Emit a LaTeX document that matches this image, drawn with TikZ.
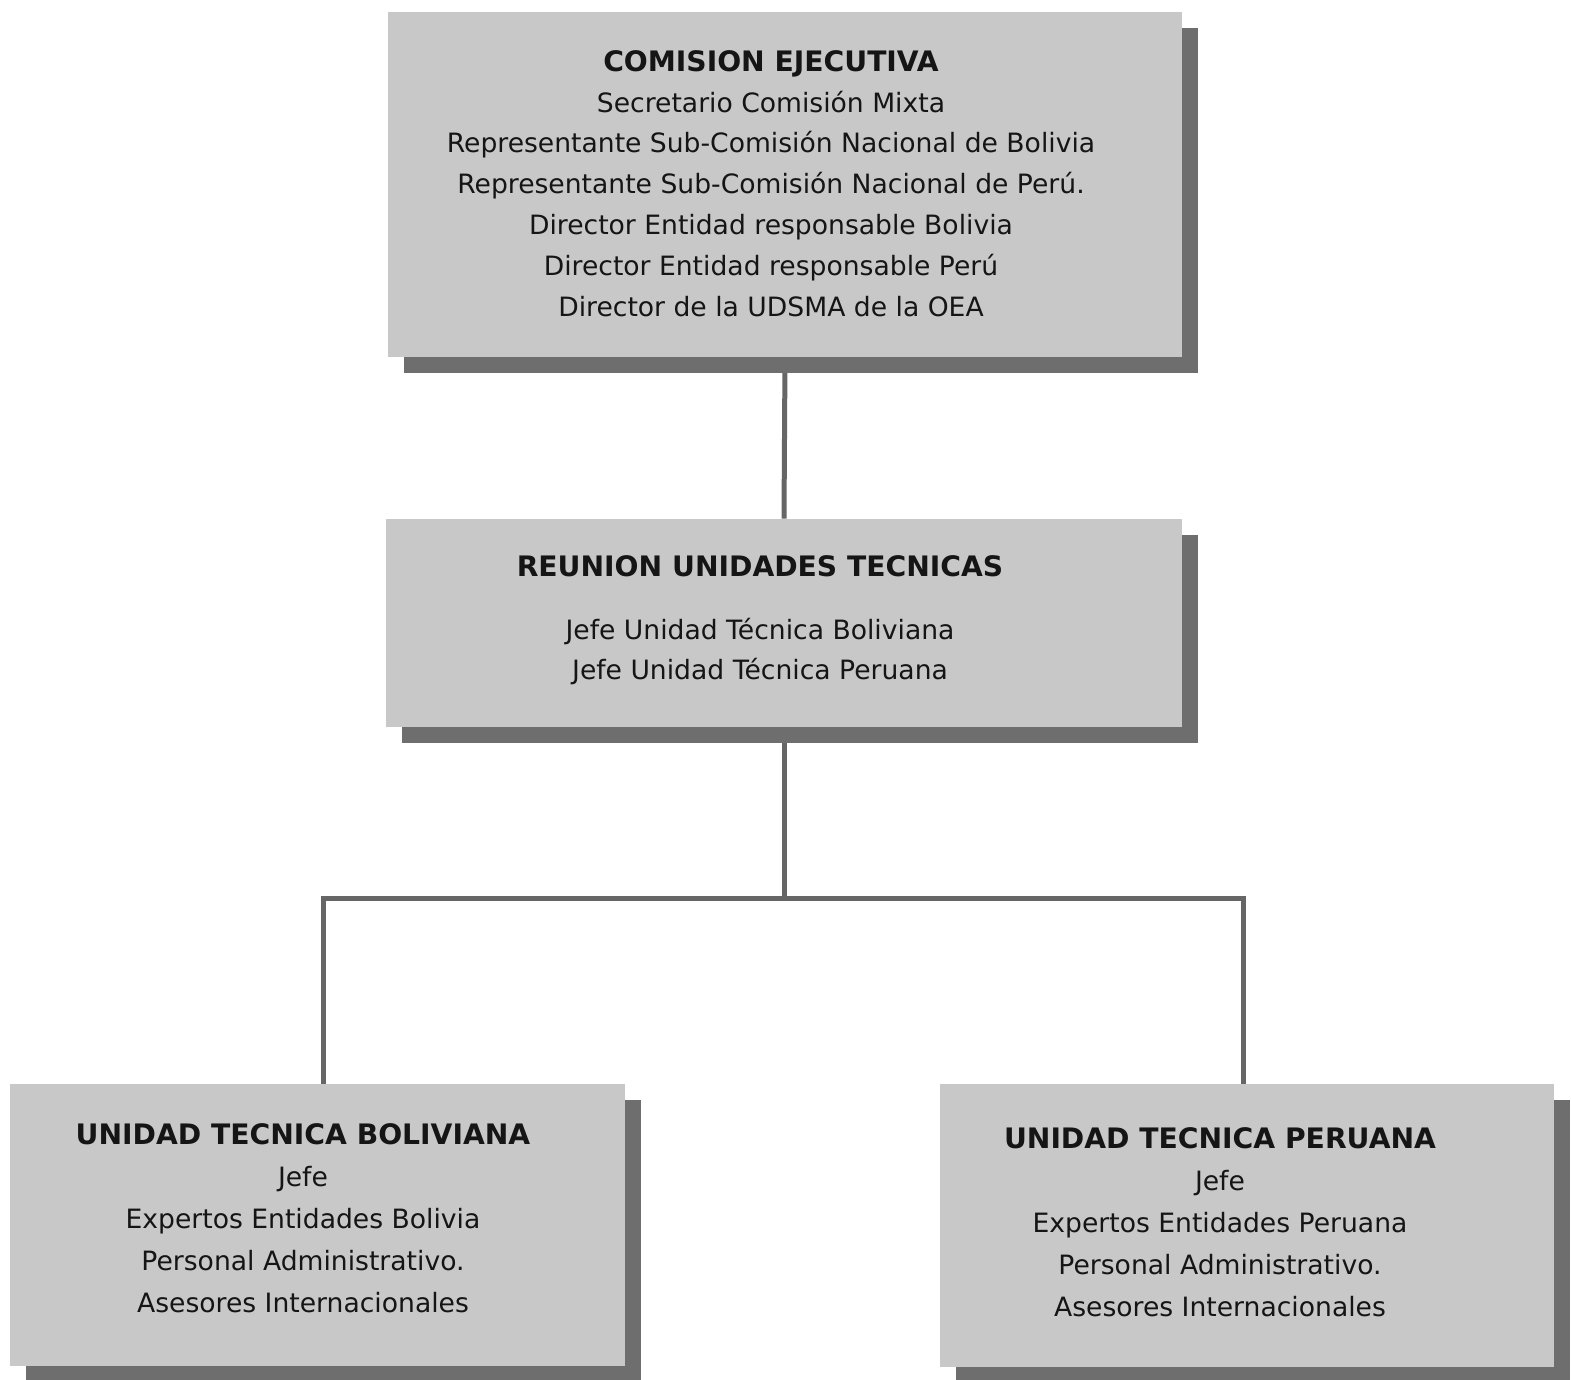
\documentclass[tikz,border=0pt]{standalone}
\usepackage{fontspec}
\setmainfont{DejaVu Sans}
\usetikzlibrary{shadows,backgrounds}
\definecolor{boxgray}{HTML}{C8C8C8}
\definecolor{shadowgray}{HTML}{6E6E6E}
\definecolor{linegray}{HTML}{666666}
\definecolor{txt}{HTML}{151515}
\tikzset{
  orgbox/.style={fill=boxgray, inner sep=0pt,
    drop shadow={shadow xshift=8pt, shadow yshift=-8pt, fill=shadowgray, opacity=1}},
  boxtext/.style={align=center, text=txt, inner sep=0pt},
  conn/.style={draw=linegray, line width=2.5pt},
}
\newcommand{\ttl}[1]{{\fontsize{14.1pt}{20pt}\selectfont\bfseries #1}}
\begin{document}
\begin{tikzpicture}[x=0.5pt, y=-0.5pt]
\useasboundingbox (0,0) rectangle (1571,1380);
% boxes
\node[orgbox, minimum width=397pt, minimum height=172.5pt] (top) at (785,184.5) {};
\node[orgbox, minimum width=398pt, minimum height=104pt] (mid) at (784,623) {};
\node[orgbox, minimum width=307.5pt, minimum height=141pt] (bl) at (317.5,1225) {};
\node[orgbox, minimum width=307pt, minimum height=141.5pt] (br) at (1247,1225.5) {};
% texts
\node[boxtext, font={\fontsize{13.3pt}{20.4pt}\selectfont}] (toptext) at (771,183.5)
  {\ttl{COMISION EJECUTIVA}\\
   Secretario Comisión Mixta\\
   Representante Sub-Comisión Nacional de Bolivia\\
   Representante Sub-Comisión Nacional de Perú.\\
   Director Entidad responsable Bolivia\\
   Director Entidad responsable Perú\\
   Director de la UDSMA de la OEA};
\node[boxtext, font={\fontsize{13.3pt}{20pt}\selectfont}] (midtext) at (760,620.5)
  {\ttl{REUNION UNIDADES TECNICAS}\\[11.5pt]
   Jefe Unidad Técnica Boliviana\\
   Jefe Unidad Técnica Peruana};
\node[boxtext, font={\fontsize{13.3pt}{21pt}\selectfont}] (bltext) at (303,1218)
  {\ttl{UNIDAD TECNICA BOLIVIANA}\\
   Jefe\\
   Expertos Entidades Bolivia\\
   Personal Administrativo.\\
   Asesores Internacionales};
\node[boxtext, font={\fontsize{13.3pt}{21pt}\selectfont}] (brtext) at (1220,1222)
  {\ttl{UNIDAD TECNICA PERUANA}\\
   Jefe\\
   Expertos Entidades Peruana\\
   Personal Administrativo.\\
   Asesores Internacionales};
% connectors
\coordinate (busl) at (323,898);
\coordinate (busr) at (1243,898);
\begin{pgfonlayer}{background}
\draw[conn] (top.south) -- (mid.north);
\draw[conn] (mid.south) -- (mid.south |- busl);
\draw[conn] (busl |- bl.north) -- (busl) -- (busr) -- (busr |- br.north);
\end{pgfonlayer}
\end{tikzpicture}
\end{document}
